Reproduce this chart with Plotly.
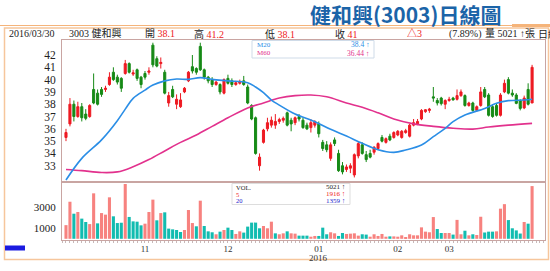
import plotly.graph_objects as go

# ---------------- data ----------------
opens = [35.3, 36.4, 38.0, 37.0, 37.8, 37.2, 37.0, 39.2, 38.9, 39.2,
         39.2, 39.6, 40.6, 40.2, 40.1, 40.5, 41.3, 40.45, 40.8, 40.2,
         40.5, 40.6, 42.8, 41.7, 41.3, 40.6, 38.1, 39.2, 38.0, 37.8,
         39.0, 39.9, 41.05, 40.9, 42.7, 40.8, 40.2, 40.0, 39.6, 39.6,
         38.9, 40.1, 39.9, 39.6, 39.7, 39.9, 39.4, 37.9, 36.9, 33.0,
         34.9, 36.0, 36.3, 36.3, 36.6, 36.7, 37.3, 36.7, 36.5, 37.0,
         36.7, 36.3, 36.1, 36.3, 36.4, 34.9, 34.7, 33.6, 35.1, 34.0,
         33.0, 32.7, 32.8, 32.25, 33.8, 34.7, 33.9, 34.0, 34.1, 34.4,
         35.3, 34.9, 35.4, 35.3, 35.5, 35.3, 35.7, 35.4, 36.3, 36.4,
         36.8, 37.4, 37.5, 38.6, 38.3, 38.5, 38.0, 38.3, 38.5, 38.4,
         38.7, 38.7, 37.9, 38.1, 37.5, 37.9, 39.2, 38.75, 37.8, 37.9,
         37.1, 39.0, 40.0, 38.9, 38.75, 38.3, 37.7, 39.2, 38.1]
highs = [36.0, 38.5, 38.3, 38.2, 38.1, 37.6, 38.0, 40.5, 39.2, 39.4,
         39.5, 40.6, 41.0, 40.4, 40.2, 41.6, 41.4, 40.8, 40.9, 40.3,
         40.7, 41.0, 43.0, 41.9, 41.8, 40.8, 39.0, 39.5, 38.8, 38.9,
         39.4, 40.7, 42.0, 41.0, 43.0, 40.9, 40.3, 40.2, 39.9, 39.7,
         40.1, 40.4, 40.1, 39.9, 40.0, 40.3, 39.6, 38.0, 37.0, 34.0,
         36.0, 36.9, 37.0, 37.2, 36.9, 37.0, 37.4, 36.9, 37.0, 37.2,
         36.9, 36.5, 36.8, 36.7, 36.6, 35.1, 35.0, 34.9, 35.3, 34.3,
         33.3, 33.1, 33.2, 34.0, 35.0, 34.9, 34.2, 34.3, 34.6, 34.9,
         35.5, 35.3, 35.6, 35.8, 35.9, 35.9, 36.0, 36.4, 36.8, 36.8,
         37.6, 37.6, 37.7, 39.4, 38.5, 38.6, 38.4, 38.6, 38.6, 39.2,
         39.2, 38.8, 38.2, 38.2, 37.9, 39.4, 39.4, 38.9, 38.0, 38.1,
         38.9, 40.0, 40.2, 39.2, 38.9, 38.4, 38.7, 39.7, 41.2]
lows = [35.0, 36.2, 36.6, 36.9, 36.6, 36.7, 36.9, 38.0, 37.9, 38.6,
        39.0, 39.5, 39.9, 39.6, 39.0, 40.4, 40.5, 40.3, 39.9, 39.3,
        40.0, 40.4, 41.0, 41.0, 40.9, 38.8, 37.8, 38.5, 37.6, 37.7,
        38.9, 39.8, 40.5, 40.4, 40.7, 40.0, 39.7, 39.4, 39.5, 38.8,
        38.8, 39.6, 39.4, 39.5, 39.6, 39.5, 38.0, 36.7, 33.9, 32.6,
        34.8, 35.8, 36.1, 36.0, 36.4, 36.5, 36.2, 35.8, 36.3, 36.6,
        36.0, 35.9, 35.7, 36.1, 35.3, 34.2, 34.1, 33.4, 34.6, 32.5,
        32.3, 32.5, 32.4, 32.05, 33.6, 33.9, 33.3, 33.6, 33.9, 34.3,
        34.9, 34.8, 35.0, 35.2, 35.4, 35.2, 35.6, 35.3, 36.2, 36.3,
        36.7, 37.3, 37.3, 38.2, 37.9, 37.9, 37.6, 38.2, 38.3, 38.3,
        38.6, 37.8, 37.8, 37.4, 37.4, 37.8, 38.5, 37.0, 36.9, 37.0,
        37.0, 38.9, 38.8, 38.6, 38.0, 37.5, 37.6, 37.9, 38.1]
closes = [35.7, 38.0, 37.0, 37.8, 36.9, 36.85, 37.9, 38.1, 38.0, 38.8,
          39.3, 40.2, 40.0, 39.8, 39.3, 41.3, 40.6, 40.55, 40.1, 39.6,
          40.2, 40.7, 41.2, 41.1, 41.4, 38.9, 38.7, 38.6, 38.4, 38.35,
          39.3, 40.6, 40.7, 40.6, 40.8, 40.2, 39.9, 39.6, 39.8, 39.0,
          40.0, 39.7, 39.6, 39.75, 39.85, 39.6, 38.1, 36.8, 34.0, 33.7,
          35.9, 36.5, 36.7, 36.6, 36.75, 36.85, 36.3, 36.4, 36.9, 36.8,
          36.1, 36.0, 36.5, 36.6, 35.6, 34.4, 34.3, 34.7, 34.8, 32.6,
          32.5, 32.9, 33.0, 33.9, 34.8, 34.0, 33.5, 33.7, 34.5, 34.8,
          35.0, 35.2, 35.1, 35.7, 35.8, 35.8, 35.85, 36.3, 36.5, 36.6,
          37.5, 37.55, 37.6, 38.5, 38.1, 38.05, 38.3, 38.4, 38.35, 38.7,
          39.0, 37.9, 38.1, 37.5, 37.8, 39.0, 38.6, 37.1, 37.0, 37.1,
          38.75, 39.7, 38.9, 38.75, 38.07, 37.66, 38.5, 38.0, 41.0]
volumes = [1300, 3530, 2390, 2550, 1920, 1600, 1400, 4330, 1470, 2450,
           2300, 3950, 2140, 1500, 1530, 5220, 2080, 1660, 1630, 1280,
           1440, 2550, 3730, 1760, 2450, 2520, 970, 900, 840, 650,
           840, 2740, 1500, 1190, 3630, 1220, 710, 620, 430, 680,
           840, 1060, 840, 460, 710, 590, 1160, 1540, 1540, 1000,
           1220, 1000, 1630, 520, 430, 520, 710, 520, 490, 300,
           300, 300, 200, 270, 270, 1060, 430, 620, 520, 270,
           550, 460, 490, 520, 300, 430, 400, 200, 430, 270,
           460, 200, 230, 230, 200, 330, 100, 430, 330, 330,
           1090, 680, 620, 2070, 930, 550, 550, 550, 400, 1800,
           430, 770, 330, 430, 360, 2100, 600, 680, 680, 710,
           2870, 3300, 1780, 1000, 800, 500, 1600, 1440, 5021]

ma20_idx = [0, 4, 9, 13, 15, 17, 20, 22, 25, 28, 31, 34, 37, 41, 46, 48, 50, 52,
            54, 58, 63, 67, 71, 75, 79, 83, 86, 90, 93, 96, 98, 101, 106, 109,
            112, 116, 118]
ma20_val = [31.84, 33.6, 35.1, 36.66, 37.6, 38.48, 39.15, 39.56, 39.9, 40.05,
            40.02, 40.16, 40.02, 39.9, 39.75, 39.4, 38.94, 38.34, 37.93, 37.2,
            36.58, 35.96, 35.41, 34.82, 34.3, 34.09, 34.28, 34.68, 35.36, 36.04,
            36.58, 37.12, 37.66, 38.07, 38.29, 38.34, 38.4]
ma60_idx = [0, 4, 9, 13, 17, 21, 25, 29, 33, 37, 41, 46, 50, 54, 58, 62, 66, 71,
            75, 79, 83, 88, 93, 98, 103, 107, 112, 118]
ma60_val = [32.7, 32.6, 32.45, 32.5, 32.92, 33.5, 34.2, 34.9, 35.5, 36.2, 36.9,
            37.7, 38.1, 38.5, 38.7, 38.75, 38.6, 38.1, 37.75, 37.3, 36.8, 36.4,
            36.2, 36.05, 35.98, 36.15, 36.3, 36.44]

month_idx = [20, 41, 64, 84, 97]
month_lbl = ["11", "12", "01", "02", "03"]
year_lbl = "2016"
price_ticks = [33, 34, 35, 36, 37, 38, 39, 40, 41, 42]
vol_ticks = [1000, 3000]

stock_name = "健和興"
stock_code = "3003"
date_str = "2016/03/30"
info = {"open": 38.1, "high": 41.2, "low": 38.1, "close": 41, "chg": 3,
        "pct": 7.89, "vol": 5021}
ma20_last, ma60_last = 38.4, 36.44
vol_last, vol_ma5, vol_ma20 = 5021, 1916, 1359

# ---------------- style ----------------
W, H = 550, 271
RED = "#ee1a22"
GREEN = "#168a16"
PINK = "#f7827f"
TEAL = "#12bcb0"
BLUE_MA = "#2b8ee6"
MAG_MA = "#e2318d"
BORDER = "#c9a5a2"
ORANGE = "#f6c69c"
SERIF = "Liberation Serif, Noto Sans CJK TC, serif"


def px(x):
    return x / W


def py(y):
    return 1 - y / H


idx = list(range(len(closes)))
vol_colors = [PINK if i == 0 or closes[i] >= closes[i - 1] else TEAL for i in idx]

fig = go.Figure()
fig.add_trace(go.Candlestick(
    x=idx, open=opens, high=highs, low=lows, close=closes,
    increasing=dict(line=dict(color=RED, width=1), fillcolor=RED),
    decreasing=dict(line=dict(color=GREEN, width=1), fillcolor=GREEN),
    whiskerwidth=0, xaxis="x", yaxis="y", hoverinfo="skip"))
fig.add_trace(go.Scatter(x=ma60_idx, y=ma60_val, mode="lines",
                         line=dict(color=MAG_MA, width=1.6, shape="spline"),
                         xaxis="x", yaxis="y", hoverinfo="skip"))
fig.add_trace(go.Scatter(x=ma20_idx, y=ma20_val, mode="lines",
                         line=dict(color=BLUE_MA, width=1.6, shape="spline"),
                         xaxis="x", yaxis="y", hoverinfo="skip"))
fig.add_trace(go.Bar(x=idx, y=volumes, marker=dict(color=vol_colors, line=dict(width=0)),
                     xaxis="x2", yaxis="y2", hoverinfo="skip"))

xr = [-1.01, 121.27]
axis_common = dict(showgrid=False, zeroline=False, showline=True, mirror=True,
                   linecolor=BORDER, linewidth=1)
fig.update_layout(
    width=W, height=H, margin=dict(l=0, r=0, t=0, b=0),
    paper_bgcolor="white", plot_bgcolor="white", showlegend=False,
    bargap=0.22, boxgap=0.25,
    xaxis=dict(domain=[px(62), px(545)], range=xr, anchor="y", showticklabels=False,
               ticks="", rangeslider=dict(visible=False), **axis_common),
    yaxis=dict(domain=[py(181), py(40)], range=[31.76, 43.22], anchor="x",
               tickvals=price_ticks, ticks="", ticklabelstandoff=3,
               tickfont=dict(family=SERIF, size=11.5, color="#222"), **axis_common),
    xaxis2=dict(domain=[px(62), px(545)], range=xr, anchor="y2",
                tickvals=month_idx, ticktext=month_lbl, ticks="",
                tickfont=dict(family=SERIF, size=9, color="#333"),
                minor=dict(tickmode="linear", tick0=0, dtick=1, ticks="outside",
                           ticklen=2, tickcolor="#c8b8b8"),
                **axis_common),
    yaxis2=dict(domain=[py(240), py(183)], range=[-115, 5314], anchor="x2",
                tickvals=vol_ticks, ticks="", ticklabelstandoff=3,
                tickfont=dict(family=SERIF, size=11, color="#222"), **axis_common),
)

shapes = [
    dict(type="line", xref="paper", yref="paper", x0=0, x1=1, y0=py(25.5), y1=py(25.5),
         line=dict(color="#f5b47a", width=1.2)),
    dict(type="line", xref="paper", yref="paper", x0=px(512), x1=1, y0=py(25.5), y1=py(25.5),
         line=dict(color="#f5b47a", width=3)),
    dict(type="rect", xref="paper", yref="paper", x0=px(4.5), x1=px(548.5),
         y0=py(259.5), y1=py(28), line=dict(color=ORANGE, width=1.5)),
    dict(type="rect", xref="paper", yref="paper", x0=px(252), x1=px(374),
         y0=py(58), y1=py(40.5), fillcolor="white", line=dict(color="#cfdbe8", width=1)),
    dict(type="rect", xref="paper", yref="paper", x0=px(232), x1=px(350),
         y0=py(204.5), y1=py(183.5), fillcolor="white", line=dict(color="#dddddd", width=1)),
    dict(type="rect", xref="paper", yref="paper", x0=px(5), x1=px(25),
         y0=py(250.5), y1=py(245.5), fillcolor="#1b1be0", line=dict(width=0)),
]
fig.update_layout(shapes=shapes)

anns = []


def ann(x, y, text, color="#222", size=10, anchor="left", family=SERIF):
    anns.append(dict(x=px(x), y=py(y), xref="paper", yref="paper",
                     text=text, showarrow=False, xanchor=anchor, yanchor="middle",
                     font=dict(family=family, size=size, color=color)))


ann(405, 14, "<b>%s(%s)日線圖</b>" % (stock_name, stock_code), "#1b64a8", 21, "center",
    "Noto Sans CJK TC, sans-serif")

yi = 34
ann(7, yi, date_str)
ann(67, yi, "%s %s" % (stock_code, stock_name))
ann(143, yi, "開 <span style='color:%s'>%s</span>" % (RED, info["open"]))
ann(192, yi, "高 <span style='color:%s'>%s</span>" % (RED, info["high"]))
ann(263, yi, "低 <span style='color:%s'>%s</span>" % (RED, info["low"]))
ann(333, yi, "收 <span style='color:%s'>%s</span>" % (RED, info["close"]))
ann(405, yi, "△%s" % info["chg"], RED)
ann(447, yi, "(%.2f%%)" % info["pct"])
ann(483, yi, "量 %d ↑張" % info["vol"])
ann(536, yi, "日線")

ann(255, 45, "M20", BLUE_MA, 7)
ann(255, 53, "M60", MAG_MA, 7)
ann(372, 45, "%s ↑" % ma20_last, BLUE_MA, 7.5, "right")
ann(372, 53, "%s ↑" % ma60_last, MAG_MA, 7.5, "right")

ann(234, 187, "VOL.", "#222", 6.5)
ann(234, 194, "5", RED, 6.5)
ann(234, 201, "20", "#2222cc", 6.5)
ann(347, 187, "%d ↑" % vol_last, "#222", 7, "right")
ann(347, 194, "%d ↑" % vol_ma5, RED, 7, "right")
ann(347, 201, "%d ↑" % vol_ma20, "#2222cc", 7, "right")

anns.append(dict(x=month_idx[2], y=py(258), xref="x2", yref="paper", text=year_lbl,
                 showarrow=False, xanchor="center", yanchor="middle",
                 font=dict(family=SERIF, size=9, color="#333")))
fig.update_layout(annotations=anns)

fig.write_html("out.html")
